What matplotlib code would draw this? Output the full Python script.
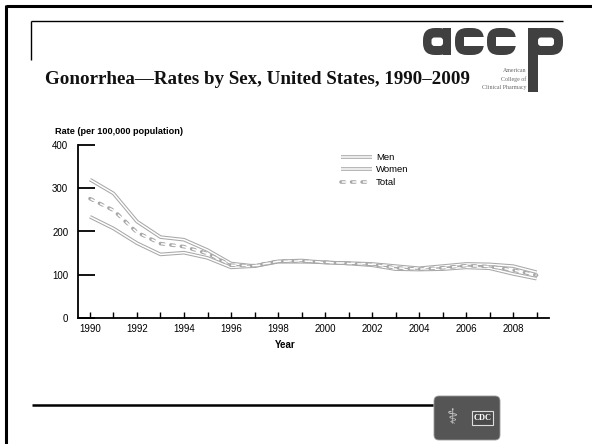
import matplotlib
matplotlib.use("Agg")
import matplotlib.pyplot as plt
from matplotlib.patches import FancyBboxPatch, Rectangle

plt.rcParams["lines.scale_dashes"] = False

years = list(range(1990, 2010))
men = [320, 288, 223, 187, 181, 157, 126, 120, 130, 130, 129, 126, 122, 113, 112, 113, 117, 115, 102, 91]
women = [234, 207, 173, 147, 151, 139, 117, 120, 131, 133, 128, 127, 125, 120, 115, 120, 125, 124, 120, 106]
total = [276, 249, 198, 172, 165, 149, 122, 121, 131, 132, 129, 126, 124, 116, 113, 116, 121, 119, 111, 99]
series_names = ["Men", "Women", "Total"]
yticks = [0, 100, 200, 300, 400]
xtick_labels = list(range(1990, 2010, 2))

title = "Gonorrhea\u2014Rates by Sex, United States, 1990\u20132009"

W, H = 592.0, 444.0
fig = plt.figure(figsize=(W / 100, H / 100), dpi=100)
fig.patch.set_facecolor("white")

# slide decoration layer in pixel units (origin top-left)
bg = fig.add_axes([0, 0, 1, 1])
bg.set_xlim(0, W)
bg.set_ylim(H, 0)
bg.axis("off")

bg.plot([6, 592], [6.5, 6.5], color="black", lw=2.2, solid_capstyle="butt")
bg.plot([6, 6], [5.5, 444], color="black", lw=2.2, solid_capstyle="butt")
bg.plot([31, 563], [21.5, 21.5], color="black", lw=1.0, solid_capstyle="butt")
bg.plot([31, 31], [21.5, 60], color="black", lw=1.0, solid_capstyle="butt")
bg.plot([32, 433], [405, 405], color="black", lw=1.8, solid_capstyle="butt")

bg.text(45, 80, title, family="Liberation Serif", fontweight="bold",
        fontsize=13.7, ha="left", va="center", color="#111111")

# accp wordmark built from rounded blocks
LOGO = "#404040"
def rbox(x0, y0, x1, y1, r, color):
    bg.add_patch(FancyBboxPatch((x0, y0), x1 - x0, y1 - y0,
                                boxstyle="round,pad=0,rounding_size=%g" % r,
                                facecolor=color, edgecolor="none"))

top, base = 28, 55
# a
rbox(423, top, 451, base, 12, LOGO)
rbox(431.5, 37.5, 443, 46, 3, "white")
bg.add_patch(Rectangle((443, top), 8, base - top, facecolor=LOGO, edgecolor="none"))
# c, c
for cx in (455, 487):
    rbox(cx, top, cx + 29, base, 12, LOGO)
    bg.add_patch(Rectangle((cx + 9, 37.5), 21, 8.5, facecolor="white", edgecolor="none"))
# p
rbox(528, top, 563, base, 12, LOGO)
rbox(538, 37.5, 554, 46, 3, "white")
bg.add_patch(Rectangle((528, top), 10, 92 - top, facecolor=LOGO, edgecolor="none"))
for i, s in enumerate(["American", "College of", "Clinical Pharmacy"]):
    bg.text(526, 70 + i * 9, s, family="Liberation Serif", fontsize=4.2,
            ha="right", va="center", color="#666666")

# CDC badge
bg.add_patch(FancyBboxPatch((434, 396), 66, 44, boxstyle="round,pad=0,rounding_size=5",
                            facecolor="#555555", edgecolor="#999999", lw=0.6))
bg.add_patch(Rectangle((472, 411), 21, 14, facecolor="#4a4a4a", edgecolor="#dddddd", lw=0.8))
bg.text(482.5, 418, "CDC", family="Liberation Serif", fontweight="bold",
        fontsize=6, ha="center", va="center", color="white")
bg.text(452, 418, "\u2695", family="DejaVu Sans", fontsize=15,
        ha="center", va="center", color="#cccccc")

# chart
ax = fig.add_axes([78 / W, 1 - 318 / H, (549 - 78) / W, (318 - 145) / H])
ax.set_facecolor("none")
ax.set_xlim(1989.49, 2009.53)
ax.set_ylim(0, 400)

EDGE, FILL = "#a8a8a8", "white"

def double_line(target, x, y, dashed=False):
    if dashed:
        target.plot(x, y, color=EDGE, lw=2.6, ls=(0, (2.6, 5.0)), dash_capstyle="round")
        target.plot(x, y, color=FILL, lw=1.1, ls=(7.05, (3.7, 3.9)), dash_capstyle="butt")
    else:
        target.plot(x, y, color=EDGE, lw=2.6, solid_capstyle="butt")
        target.plot(x, y, color=FILL, lw=1.1, solid_capstyle="butt")

double_line(ax, years, men)
double_line(ax, years, women)
double_line(ax, years, total, dashed=True)

for side in ("top", "right"):
    ax.spines[side].set_visible(False)
ax.spines["left"].set_linewidth(1.3)
ax.spines["bottom"].set_linewidth(1.3)

ax.set_yticks(yticks)
ax.set_yticklabels([str(v) for v in yticks], fontsize=7, family="Liberation Sans")
ax.tick_params(axis="y", direction="in", length=12, width=1.3, pad=7)
ax.set_xticks(years)
ax.set_xticklabels([str(y) if y in xtick_labels else "" for y in years],
                   fontsize=7, family="Liberation Sans")
ax.tick_params(axis="x", direction="in", length=4, width=1.0, pad=4)
ax.set_xlabel("Year", fontsize=7, family="Liberation Sans", fontweight="bold")
ax.xaxis.set_label_coords((285 - 78) / (549 - 78), -0.13)
bg.text(55, 131, "Rate (per 100,000 population)", fontsize=6.6,
        family="Liberation Sans", fontweight="bold", ha="left", va="center")

# legend
for i, name in enumerate(series_names):
    yy = 157 + i * 12.5
    double_line(bg, [341, 372], [yy, yy], dashed=(name == "Total"))
    bg.text(376, yy, name, fontsize=6.8, family="Liberation Sans", ha="left", va="center")

fig.savefig("out.png", dpi=100, facecolor="white")
